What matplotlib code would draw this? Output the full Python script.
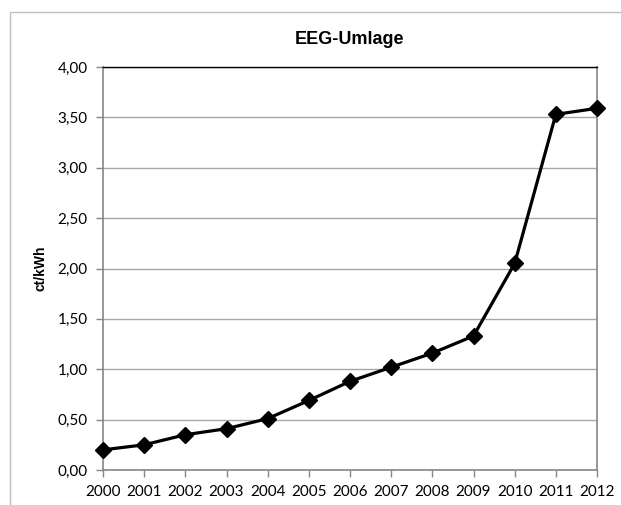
import matplotlib.pyplot as plt
from matplotlib.patches import Rectangle
from matplotlib.ticker import FuncFormatter

# --- DONNEES ---
years = [2000, 2001, 2002, 2003, 2004, 2005, 2006, 2007, 2008, 2009, 2010, 2011, 2012]
umlage = [0.20, 0.25, 0.35, 0.41, 0.51, 0.69, 0.88, 1.02, 1.16, 1.33, 2.05, 3.53, 3.59]
y_ticks = [0.0, 0.5, 1.0, 1.5, 2.0, 2.5, 3.0, 3.5, 4.0]

W, H = 621, 505
fig = plt.figure(figsize=(W / 100, H / 100), dpi=100)

# cadre du graphique (coupé à droite et en bas)
fig.patches.append(Rectangle((10 / W, -0.1), 1.2, 1 - 12 / H + 0.1,
                             transform=fig.transFigure, fill=False,
                             edgecolor='#bfbfbf', linewidth=1))

ax = fig.add_axes([103 / W, 1 - 470 / H, (597 - 103) / W, (470 - 67) / H])

ax.plot(years, umlage, color='black', linewidth=2.3, marker='D',
        markersize=8, zorder=3, clip_on=False)

ax.set_xlim(years[0], years[-1])
ax.set_ylim(0, 4)
ax.set_xticks(years)
ax.set_yticks(y_ticks)
ax.yaxis.set_major_formatter(FuncFormatter(lambda v, p: f"{v:.2f}".replace('.', ',')))

ax.grid(axis='y', color='#a6a6a6', linewidth=1)
ax.set_axisbelow(True)

for side in ['left', 'bottom', 'right']:
    ax.spines[side].set_color('#868686')
    ax.spines[side].set_linewidth(1.2)
ax.spines['top'].set_color('black')
ax.spines['top'].set_linewidth(1)

ax.tick_params(axis='both', colors='#868686', length=5, width=1, labelcolor='black')
for lab in ax.get_xticklabels() + ax.get_yticklabels():
    lab.set_fontfamily('Lato')
    lab.set_fontsize(11)
ax.tick_params(axis='x', pad=6)
ax.tick_params(axis='y', pad=6)

ax.set_ylabel("ct/kWh", fontfamily='Liberation Sans', fontweight='bold', fontsize=10, labelpad=7)
fig.text(350 / W, 1 - 40 / H, "EEG-Umlage", ha='center', va='center',
         fontfamily='Liberation Sans', fontweight='bold', fontsize=13)

fig.savefig("out.png", dpi=100)
